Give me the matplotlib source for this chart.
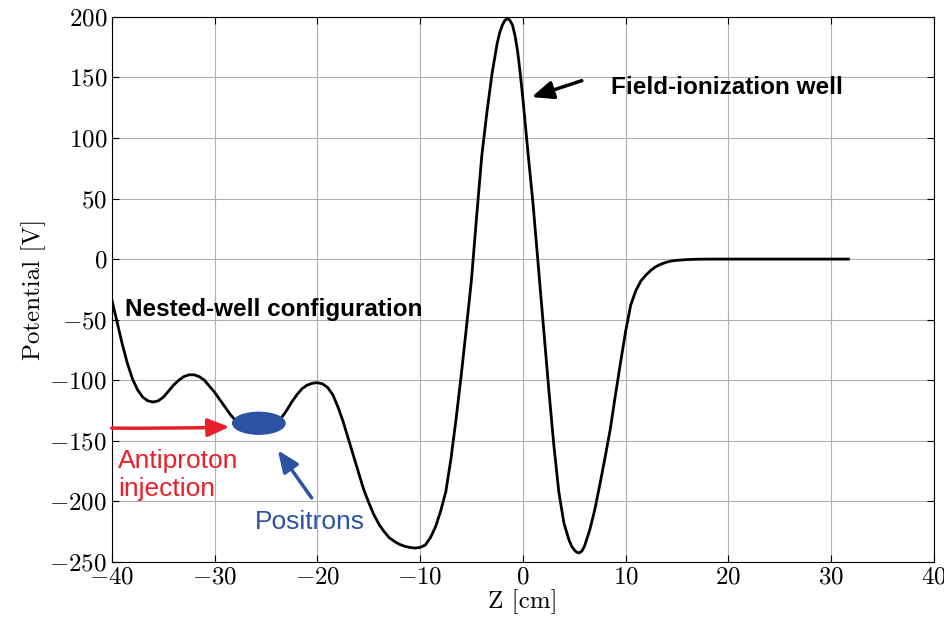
import matplotlib
matplotlib.use("Agg")
import matplotlib.pyplot as plt
from matplotlib.patches import Ellipse

# potential profile (z in cm, potential in V)
z_cm = [-40, -39.5, -39, -38.5, -38, -37.5, -37, -36.5, -36, -35.5, -35,
        -34.5, -34, -33.5, -33, -32.5, -32, -31.5, -31, -30.5, -30, -29.5,
        -29, -28.5, -28, -27.5, -27, -26.5, -26, -25.5, -25, -24.5, -24,
        -23.5, -23, -22.5, -22, -21.5, -21, -20.5, -20, -19.5, -19, -18.5,
        -18, -17.5, -17, -16.5, -16, -15.5, -15, -14.5, -14, -13.5, -13,
        -12.5, -12, -11.5, -11, -10.5, -10, -9.5, -9, -8.5, -8, -7.5, -7,
        -6.5, -6, -5.5, -5, -4.5, -4, -3.5, -3, -2.5, -2.25, -2, -1.75,
        -1.5, -1.25, -1, -0.75, -0.5, -0.25, 0, 0.5, 1, 1.5, 2, 2.5, 3,
        3.5, 4, 4.5, 4.75, 5, 5.25, 5.5, 5.75, 6, 6.5, 7, 7.5, 8,
        8.5, 9, 9.5, 10, 10.5, 11, 11.5, 12, 12.5, 13, 13.5, 14, 14.5, 15,
        16, 17, 18, 20, 25, 31.7]
potential = [-34, -52, -70, -86, -99, -108, -114, -117, -118, -117, -114,
             -109, -104, -100, -97, -95.5, -95.5, -97, -100, -105, -110, -116,
             -122, -128, -133, -137.5, -140.5, -142.5, -143.5, -143.5, -142.5, -140, -136,
             -131, -125, -118, -112, -107, -104, -102.5, -102, -103, -106, -112,
             -122, -134, -148, -162, -176, -190, -201, -211, -219, -225, -230,
             -233, -235.5, -237, -238, -238.5, -238, -236, -230, -221, -208, -192, -165,
             -132, -96, -57, -17, 35, 85, 121, 153, 178, 187, 193, 197,
             198.5, 197, 193, 184, 171, 153, 133, 88, 45, -5, -55, -105, -152,
             -192, -218, -232, -237, -240, -242, -242.5, -241, -237, -224, -207, -186, -164,
             -141, -113, -86, -60, -38, -26, -18, -13, -9, -6, -4, -2.5, -1.5, -1,
             -0.4, -0.1, 0, 0, 0, 0]

x_ticks = [-40, -30, -20, -10, 0, 10, 20, 30, 40]
y_ticks = [-250, -200, -150, -100, -50, 0, 50, 100, 150, 200]

plt.rcParams['font.family'] = 'cmr10'
plt.rcParams['mathtext.fontset'] = 'cm'
plt.rcParams['axes.formatter.use_mathtext'] = True

fig = plt.figure(figsize=(9.44, 6.22), dpi=100)
ax = fig.add_axes([0.1186, 0.0965, 0.8705, 0.8765])

ax.plot(z_cm, potential, color='black', lw=2.0, zorder=3,
        solid_joinstyle='round')

ax.set_xlim(-40, 40)
ax.set_ylim(-250, 200)
ax.set_xticks(x_ticks)
ax.set_yticks(y_ticks)
ax.grid(True, color='#b0b0b0', lw=0.8)
ax.tick_params(direction='in', top=True, right=True, length=5, labelsize=18)
ax.set_xlabel('Z [cm]', fontsize=18, labelpad=0)
ax.set_ylabel('Potential [V]', fontsize=18, labelpad=2)

sans = ['Liberation Sans', 'DejaVu Sans']
head = '-|>,head_length=1.3,head_width=0.55'

# annotations
ax.annotate('', xy=(0.6, 133), xytext=(6.0, 148),
            arrowprops=dict(arrowstyle=head, color='black', lw=2.5))
ax.text(8.6, 142, 'Field-ionization well', family=sans, fontweight='bold',
        fontsize=17.5, va='center', ha='left')
ax.text(-38.7, -42, 'Nested-well configuration', family=sans,
        fontweight='bold', fontsize=17.5, va='center', ha='left')

ax.add_patch(Ellipse((-25.7, -135.5), 5.1, 18, color='#2b52a3', zorder=4))

ax.annotate('', xy=(-28.3, -138.5), xytext=(-40.3, -139.5),
            arrowprops=dict(arrowstyle=head, color='#e8202a', lw=2.5,
                            connectionstyle='arc3,rad=0.01'),
            annotation_clip=False)
ax.text(-39.4, -178, 'Antiproton\ninjection', family=sans, color='#e8202a',
        fontsize=19, va='center', ha='left', linespacing=1.2)

ax.annotate('', xy=(-24.0, -156), xytext=(-20.4, -199),
            arrowprops=dict(arrowstyle=head, color='#2b52a3', lw=2.5))
ax.text(-26.1, -217, 'Positrons', family=sans, color='#2b52a3',
        fontsize=19, va='center', ha='left')

fig.savefig('out.png', dpi=100)
